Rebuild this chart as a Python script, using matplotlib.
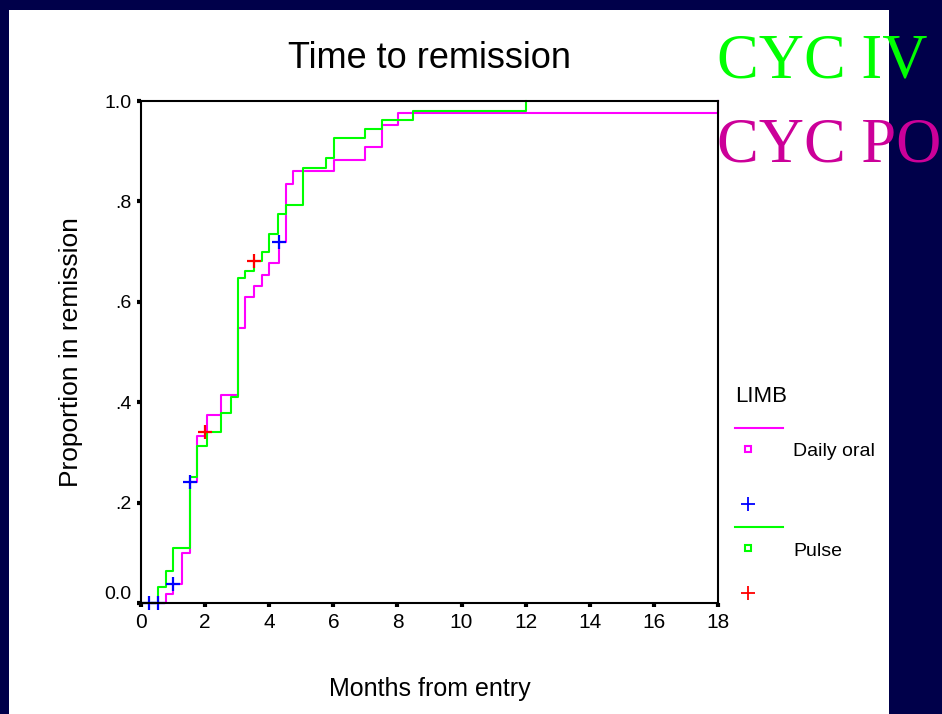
import numpy as np
import matplotlib.pyplot as plt
from matplotlib.lines import Line2D
from matplotlib.patches import Rectangle

plt.rcParams['font.family'] = ['Liberation Sans', 'DejaVu Sans']

# Kaplan-Meier style step data (months, proportion in remission)
oral_t = [0, 0.77, 1.0, 1.29, 1.53, 1.76, 2.05, 2.5, 3.02, 3.24, 3.53, 3.76, 3.99,
          4.3, 4.52, 4.73, 6.02, 6.99, 7.53, 8.03, 18]
oral_p = [0, 0.017, 0.037, 0.099, 0.242, 0.332, 0.375, 0.414, 0.547, 0.610, 0.632,
          0.653, 0.677, 0.720, 0.835, 0.861, 0.882, 0.908, 0.952, 0.977, 1.0]

pulse_t = [0, 0.54, 0.77, 1.0, 1.53, 1.76, 2.05, 2.5, 2.8, 3.02, 3.24, 3.53, 3.76,
           3.99, 4.28, 4.51, 5.04, 5.77, 6.02, 6.99, 7.51, 8.49, 12.0]
pulse_p = [0, 0.032, 0.063, 0.109, 0.251, 0.313, 0.341, 0.379, 0.411, 0.647, 0.662,
           0.681, 0.699, 0.736, 0.775, 0.793, 0.867, 0.886, 0.927, 0.945, 0.963,
           0.981, 1.0]

# censored observations
oral_cens_t = [0.25, 0.54, 1.0, 1.53, 4.3]
oral_cens_p = [0, 0, 0.037, 0.242, 0.720]
pulse_cens_t = [2.0, 3.53]
pulse_cens_p = [0.341, 0.681]

xticks = np.arange(0, 19, 2)
yticks = [0, 0.2, 0.4, 0.6, 0.8, 1.0]
ytick_labels = ['0.0', '.2', '.4', '.6', '.8', '1.0']

magenta = '#ff00ff'
green = '#00ff00'
navy = '#00004a'

fig = plt.figure(figsize=(9.42, 7.14), dpi=100, facecolor=navy)
fig.add_artist(Rectangle((9 / 942, 0), 880 / 942, 704 / 714, transform=fig.transFigure,
                         facecolor='white', edgecolor='none', zorder=0))

ax = fig.add_axes([141 / 942, 111 / 714, 577 / 942, 502 / 714])
ax.set_facecolor('white')
ax.step(oral_t, oral_p, where='post', color=magenta, lw=1.5, clip_on=False)
ax.step(pulse_t, pulse_p, where='post', color=green, lw=1.5, clip_on=False)
ax.plot(oral_cens_t, oral_cens_p, '+', color='#0000ff', ms=10, mew=1.6, clip_on=False)
ax.plot(pulse_cens_t, pulse_cens_p, '+', color='#ff0000', ms=10, mew=1.6, clip_on=False)

ax.set_xlim(0, 18)
ax.set_ylim(0, 1)
ax.set_xticks(xticks)
ax.set_xticklabels([str(v) for v in xticks], fontsize=15)
ax.set_yticks(yticks)
ax.set_yticklabels(ytick_labels, fontsize=14)
ax.get_yticklabels()[0].set_va('bottom')
ax.tick_params(direction='out', length=3, width=3, color='black', pad=4)
for s in ax.spines.values():
    s.set_linewidth(1.5)
    s.set_color('black')

ax.set_title('Time to remission', fontsize=26, pad=24)
ax.set_xlabel('Months from entry', fontsize=18)
ax.xaxis.set_label_coords(0.501, -0.147)
ax.set_ylabel('Proportion in remission', fontsize=19)
ax.yaxis.set_label_coords(-0.100, 0.5)

# legend drawn by hand, like the SPSS one
def fx(px):
    return px / 942


def fy(py):
    return 1 - py / 714


fig.text(fx(735), fy(397), 'LIMB', fontsize=16, va='center', ha='left')
fig.add_artist(Line2D([fx(735), fx(783)], [fy(428), fy(428)], color=magenta, lw=1.5))
fig.add_artist(Line2D([fx(748)], [fy(449)], marker='s', ms=5, mfc='white', mec=magenta, mew=1.5))
fig.text(fx(793), fy(452), 'Daily oral', fontsize=14, va='center', ha='left')
fig.add_artist(Line2D([fx(748)], [fy(504)], marker='+', ms=10, color='#0000ff', mew=1.3))
fig.add_artist(Line2D([fx(735), fx(783)], [fy(527), fy(527)], color=green, lw=1.5))
fig.add_artist(Line2D([fx(748)], [fy(548)], marker='s', ms=5, mfc='white', mec=green, mew=1.5))
fig.text(fx(793), fy(552), 'Pulse', fontsize=14, va='center', ha='left')
fig.add_artist(Line2D([fx(748)], [fy(593)], marker='+', ms=10, color='#ff0000', mew=1.3))

fig.text(fx(717), fy(78), 'CYC IV', fontsize=45, color=green, family='Liberation Serif',
         va='baseline', ha='left')
fig.text(fx(717), fy(162), 'CYC PO', fontsize=45, color='#cc0099', family='Liberation Serif',
         va='baseline', ha='left')

plt.savefig('out.png', dpi=100, facecolor=navy)
